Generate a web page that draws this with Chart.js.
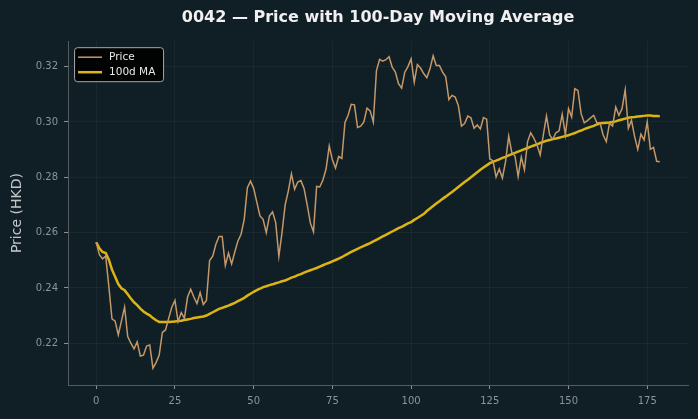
<!DOCTYPE html>
<html>
<head>
<meta charset="utf-8">
<script src="https://cdn.jsdelivr.net/npm/chart.js@4"></script>
<style>
  html, body { margin: 0; padding: 0; background: #101f25; }
  #wrap { width: 698px; height: 419px; }
</style>
</head>
<body>
<div id="wrap"><canvas id="priceChart" width="698" height="419"></canvas></div>
<script>
// ===== data =====
const prices = [
  0.2565, 0.2520, 0.2505, 0.2515, 0.2405, 0.2288, 0.2280, 0.2230, 0.2280, 0.2331,
  0.2224, 0.2200, 0.2180, 0.2205, 0.2154, 0.2157, 0.2190, 0.2194, 0.2110, 0.2130,
  0.2157, 0.2239, 0.2248, 0.2290, 0.2330, 0.2355, 0.2278, 0.2311, 0.2290, 0.2367,
  0.2395, 0.2367, 0.2343, 0.2383, 0.2340, 0.2355, 0.2499, 0.2515, 0.2558, 0.2586,
  0.2586, 0.2481, 0.2526, 0.2487, 0.2530, 0.2570, 0.2594, 0.2648, 0.2762, 0.2786,
  0.2760, 0.2710, 0.2660, 0.2648, 0.2600, 0.2660, 0.2675, 0.2636, 0.2514, 0.2600,
  0.2700, 0.2750, 0.2812, 0.2757, 0.2783, 0.2788, 0.2760, 0.2700, 0.2635, 0.2603,
  0.2767, 0.2765, 0.2790, 0.2830, 0.2913, 0.2863, 0.2833, 0.2875, 0.2868, 0.2998,
  0.3024, 0.3064, 0.3062, 0.2980, 0.2985, 0.3000, 0.3050, 0.3040, 0.3000, 0.3186,
  0.3226, 0.3220, 0.3225, 0.3236, 0.3198, 0.3180, 0.3138, 0.3122, 0.3180, 0.3200,
  0.3228, 0.3144, 0.3207, 0.3195, 0.3175, 0.3160, 0.3192, 0.3239, 0.3204, 0.3204,
  0.3180, 0.3163, 0.3081, 0.3096, 0.3090, 0.3060, 0.2985, 0.2994, 0.3021, 0.3015,
  0.2977, 0.2989, 0.2975, 0.3016, 0.3010, 0.2866, 0.2860, 0.2801, 0.2830, 0.2797,
  0.2857, 0.2949, 0.2889, 0.2877, 0.2803, 0.2873, 0.2827, 0.2929, 0.2961, 0.2941,
  0.2917, 0.2881, 0.2953, 0.3021, 0.2953, 0.2937, 0.2961, 0.2968, 0.3028, 0.2953,
  0.3048, 0.3018, 0.3120, 0.3114, 0.3030, 0.2997, 0.3005, 0.3015, 0.3024, 0.2997,
  0.2997, 0.2953, 0.2929, 0.2995, 0.2985, 0.3054, 0.3024, 0.3048, 0.3116, 0.2977,
  0.3006, 0.2947, 0.2901, 0.2956, 0.2935, 0.3000, 0.2901, 0.2908, 0.2858, 0.2856
];

const movingAvg = [
  0.2565, 0.2543, 0.2530, 0.2526, 0.2502, 0.2466, 0.2440, 0.2414, 0.2399, 0.2392,
  0.2377, 0.2362, 0.2348, 0.2338, 0.2325, 0.2315, 0.2307, 0.2301, 0.2291, 0.2283,
  0.2277, 0.2277, 0.2277, 0.2277, 0.2278, 0.2279, 0.2280, 0.2281, 0.2284, 0.2286,
  0.2288, 0.2291, 0.2293, 0.2295, 0.2297, 0.2300, 0.2306, 0.2312, 0.2318, 0.2324,
  0.2328, 0.2332, 0.2336, 0.2341, 0.2346, 0.2352, 0.2358, 0.2364, 0.2372, 0.2379,
  0.2386, 0.2392, 0.2397, 0.2403, 0.2406, 0.2410, 0.2413, 0.2417, 0.2420, 0.2424,
  0.2427, 0.2432, 0.2437, 0.2441, 0.2446, 0.2450, 0.2455, 0.2460, 0.2464, 0.2468,
  0.2472, 0.2477, 0.2482, 0.2487, 0.2491, 0.2496, 0.2501, 0.2506, 0.2511, 0.2518,
  0.2524, 0.2530, 0.2536, 0.2541, 0.2547, 0.2552, 0.2557, 0.2562, 0.2568, 0.2574,
  0.2580, 0.2586, 0.2592, 0.2598, 0.2604, 0.2610, 0.2616, 0.2621, 0.2627, 0.2633,
  0.2638, 0.2646, 0.2653, 0.2660, 0.2667, 0.2678, 0.2687, 0.2696, 0.2705, 0.2713,
  0.2722, 0.2730, 0.2739, 0.2747, 0.2756, 0.2765, 0.2774, 0.2783, 0.2791, 0.2800,
  0.2809, 0.2818, 0.2827, 0.2835, 0.2843, 0.2851, 0.2856, 0.2860, 0.2865, 0.2870,
  0.2874, 0.2879, 0.2884, 0.2888, 0.2893, 0.2897, 0.2902, 0.2906, 0.2911, 0.2915,
  0.2919, 0.2924, 0.2928, 0.2932, 0.2935, 0.2938, 0.2940, 0.2943, 0.2946, 0.2949,
  0.2952, 0.2956, 0.2960, 0.2965, 0.2969, 0.2974, 0.2978, 0.2982, 0.2986, 0.2991,
  0.2995, 0.2996, 0.2997, 0.2998, 0.3000, 0.3002, 0.3006, 0.3009, 0.3012, 0.3015,
  0.3017, 0.3018, 0.3020, 0.3021, 0.3022, 0.3023, 0.3023, 0.3022, 0.3022, 0.3021
];

const xTicks = [0, 25, 50, 75, 100, 125, 150, 175];
const yTicks = [0.22, 0.24, 0.26, 0.28, 0.30, 0.32];

const days = prices.map((p, i) => i);
const pricePoints = days.map(d => ({ x: d, y: prices[d] }));
const maPoints = days.map(d => ({ x: d, y: movingAvg[d] }));


// ===== background + hand-drawn legend box (matplotlib style) =====
const darkBg = {
  id: 'darkBg',
  beforeDraw(chart) {
    const ctx = chart.ctx;
    ctx.save();
    ctx.fillStyle = '#101f25';
    ctx.fillRect(0, 0, chart.width, chart.height);
    ctx.restore();
  }
};

const legendBox = {
  id: 'legendBox',
  afterDatasetsDraw(chart) {
    const area = chart.chartArea;
    const ctx = chart.ctx;
    const left = area.left + 6;
    const top = area.top + 6;
    ctx.save();
    ctx.beginPath();
    ctx.roundRect(left + 0.5, top + 0.5, 89, 34, 3);
    ctx.fillStyle = 'rgba(0, 0, 0, 0.9)';
    ctx.fill();
    ctx.strokeStyle = '#a8a8a8';
    ctx.lineWidth = 1;
    ctx.stroke();

    ctx.font = "10.5px 'DejaVu Sans', sans-serif";
    ctx.textBaseline = 'middle';
    chart.data.datasets.forEach((ds, i) => {
      const y = top + 10 + i * 15;
      ctx.beginPath();
      ctx.moveTo(left + 4, y);
      ctx.lineTo(left + 28, y);
      ctx.strokeStyle = ds.borderColor;
      ctx.lineWidth = ds.borderWidth;
      ctx.stroke();
      ctx.fillStyle = '#e8e8e8';
      ctx.fillText(ds.label, left + 35, y);
    });
    ctx.restore();
  }
};

Chart.defaults.font.family = "'DejaVu Sans', sans-serif";

const priceChart = document.getElementById('priceChart');

new Chart(priceChart, {
  type: 'line',

  data: {
    datasets: [{
      label: 'Price',
      data: pricePoints,
      borderColor: '#c49868',
      borderWidth: 1.5,
      pointRadius: 0,
      tension: 0
    }, {
      label: '100d MA',
      data: maPoints,
      borderColor: '#dcb414',
      borderWidth: 2.5,
      pointRadius: 0,
      tension: 0
    }]
  },

  plugins: [darkBg, legendBox],

  options: {
    responsive: false,
    animation: false,

    layout: {
      padding: { left: 9, right: 10, top: 0, bottom: 6 }
    },

    scales: {
      x: {
        type: 'linear',
        min: -8.95,
        max: 187.95,
        afterBuildTicks: scale => { scale.ticks = xTicks.map(v => ({ value: v })); },
        ticks: {
          color: '#8c9498',
          font: { size: 10 },
          padding: 6
        },
        grid: {
          color: 'rgba(255, 255, 255, 0.045)',
          tickColor: '#8c9498',
          tickLength: 4
        },
        border: { color: '#555b5e' }
      },

      y: {
        min: 0.2049,
        max: 0.3292,
        afterBuildTicks: scale => { scale.ticks = yTicks.map(v => ({ value: v })); },
        ticks: {
          color: '#8c9498',
          font: { size: 10 },
          padding: 6,
          callback: v => v.toFixed(2)
        },
        grid: {
          color: 'rgba(255, 255, 255, 0.045)',
          tickColor: '#8c9498',
          tickLength: 4
        },
        border: { color: '#555b5e' },
        title: {
          display: true,
          text: 'Price (HKD)',
          color: '#c4c8ca',
          font: { size: 14 },
          padding: { top: 0, bottom: 4 }
        }
      }
    },

    plugins: {
      title: {
        display: true,
        text: '0042 — Price with 100-Day Moving Average',
        color: '#f0f0f0',
        fullSize: false,
        font: { size: 16, weight: 'bold' },
        padding: { top: 8, bottom: 14 }
      },

      legend: { display: false },

      tooltip: { enabled: false }
    }
  }
});
</script>
</body>
</html>
